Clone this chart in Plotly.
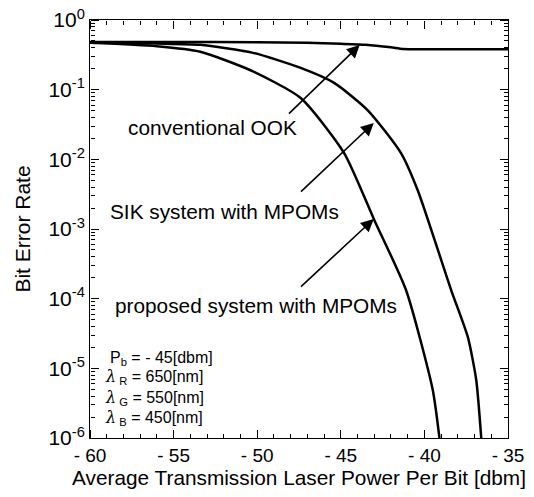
import plotly.graph_objects as go

# Data
power_ook = [-60, -55, -50, -47, -45, -43.5, -42, -41.3, -40, -35]
ber_ook = [0.485, 0.485, 0.48, 0.47, 0.455, 0.44, 0.405, 0.385, 0.38, 0.38]

power_sik = [-60, -56, -53.4, -50.3, -47.4, -45.4, -43.4, -41.4, -40.4, -38.4, -37.4, -36.9, -36.6]
ber_sik = [0.48, 0.46, 0.44, 0.34, 0.205, 0.125, 0.051, 0.0123, 3.6e-3, 1.33e-4, 2.8e-5, 6.8e-6, 1e-6]

power_prop = [-60, -56, -53.4, -50.4, -47.4, -44.8, -43.0, -41.1, -39.5, -39.1]
ber_prop = [0.47, 0.42, 0.35, 0.19, 0.076, 0.0123, 1.35e-3, 1.33e-4, 4.9e-6, 1e-6]

x_ticks = [-60, -55, -50, -45, -40, -35]
x_ticklabels = ["- 60", "- 55", "- 50", "- 45", "- 40", "- 35"]
x_minor = list(range(-60, -34))
y_ticks = [1e-6, 1e-5, 1e-4, 1e-3, 1e-2, 1e-1, 1e0]
y_ticklabels = ["10<sup>-6</sup>", "10<sup>-5</sup>", "10<sup>-4</sup>", "10<sup>-3</sup>",
                "10<sup>-2</sup>", "10<sup>-1</sup>", "10<sup>0</sup>"]
y_minor = [m * 10 ** e for e in range(-6, 0) for m in range(2, 10)]

FONT = "Liberation Sans, Arial, sans-serif"
X_RANGE = [-60, -35]
Y_RANGE = [-6, 0]

fig = go.Figure()
for xs, ys in [(power_ook, ber_ook), (power_sik, ber_sik), (power_prop, ber_prop)]:
    fig.add_trace(go.Scatter(x=xs, y=ys, mode="lines",
                             line=dict(color="black", width=2.5, shape="spline", smoothing=0.6),
                             showlegend=False))

fig.update_layout(
    width=518, height=481,
    margin=dict(l=82, r=18, t=12, b=51),
    paper_bgcolor="white", plot_bgcolor="white",
    font=dict(family=FONT, size=20, color="black"),
    xaxis=dict(range=X_RANGE, tickvals=x_ticks, ticktext=x_ticklabels, ticks="",
               showline=True, linecolor="black", linewidth=1, mirror=True,
               showgrid=False, zeroline=False, automargin=False,
               title=dict(text="Average Transmission Laser Power Per Bit [dbm]", font=dict(size=20.8), standoff=6),
               tickfont=dict(size=19)),
    yaxis=dict(type="log", range=Y_RANGE, tickvals=y_ticks, ticktext=y_ticklabels, ticks="",
               showline=True, linecolor="black", linewidth=1, mirror=True,
               showgrid=False, zeroline=False, automargin=False, ticklabeloverflow="allow",
               title=dict(text="Bit Error Rate", font=dict(size=21), standoff=12),
               tickfont=dict(size=21)),
)

# Tick-only overlay axes: outside ticks placed on the opposite edge so they point into the plot
tick_axes_x = [
    ("xaxis3", "x3", x_ticks, 8, "top", 0),
    ("xaxis4", "x4", x_ticks, 8, "bottom", 1),
    ("xaxis5", "x5", x_minor, 4, "top", 0),
    ("xaxis6", "x6", x_minor, 4, "bottom", 1),
]
for name, ref, vals, ln, side, pos in tick_axes_x:
    fig.update_layout({name: dict(overlaying="x", anchor="free", position=pos, side=side,
                                  range=X_RANGE, tickvals=vals, ticks="outside", ticklen=ln,
                                  tickwidth=1, tickcolor="black", showticklabels=False,
                                  showline=False, showgrid=False, zeroline=False, automargin=False)})
    fig.add_trace(go.Scatter(x=[power_ook[0]], y=[ber_ook[0]], xaxis=ref, yaxis="y",
                             mode="markers", marker=dict(opacity=0), showlegend=False, hoverinfo="skip"))

tick_axes_y = [
    ("yaxis3", "y3", y_ticks, 8, "right", 0),
    ("yaxis4", "y4", y_ticks, 8, "left", 1),
    ("yaxis5", "y5", y_minor, 4, "right", 0),
    ("yaxis6", "y6", y_minor, 4, "left", 1),
]
for name, ref, vals, ln, side, pos in tick_axes_y:
    fig.update_layout({name: dict(overlaying="y", anchor="free", position=pos, side=side, type="log",
                                  range=Y_RANGE, tickvals=vals, ticks="outside", ticklen=ln,
                                  tickwidth=1, tickcolor="black", showticklabels=False,
                                  showline=False, showgrid=False, zeroline=False, automargin=False)})
    fig.add_trace(go.Scatter(x=[power_ook[0]], y=[ber_ook[0]], xaxis="x", yaxis=ref,
                             mode="markers", marker=dict(opacity=0), showlegend=False, hoverinfo="skip"))

# Arrow annotations (data coords; log10 for y)
arrows = [
    (-43.87, -0.359, -48.19, -1.364),
    (-43.03, -1.478, -47.47, -2.483),
    (-43.03, -2.856, -47.47, -3.847),
]
for hx, hy, tx, ty in arrows:
    fig.add_annotation(x=hx, y=hy, ax=tx, ay=ty, xref="x", yref="y", axref="x", ayref="y",
                       text="", showarrow=True, arrowhead=2, arrowsize=1.6, arrowwidth=1.6,
                       arrowcolor="black")

labels = [
    ("conventional OOK", 0.086, 0.742),
    ("SIK system with MPOMs", 0.043, 0.541),
    ("proposed system with MPOMs", 0.055, 0.318),
]
for t, x, y in labels:
    fig.add_annotation(text=t, x=x, y=y, xref="paper", yref="paper", xanchor="left", yanchor="middle",
                       showarrow=False, font=dict(size=20.8, family=FONT))

params = [
    ("P<sub>b</sub> = - 45[dbm]", 0.043, 0.191),
    ("<span style='font-family:DejaVu Serif'><i>λ</i></span><sub> R</sub> = 650[nm]", 0.031, 0.146),
    ("<span style='font-family:DejaVu Serif'><i>λ</i></span><sub> G</sub> = 550[nm]", 0.031, 0.096),
    ("<span style='font-family:DejaVu Serif'><i>λ</i></span><sub> B</sub> = 450[nm]", 0.031, 0.048),
]
for t, x, y in params:
    fig.add_annotation(text=t, x=x, y=y, xref="paper", yref="paper", xanchor="left", yanchor="middle",
                       showarrow=False, font=dict(size=16, family=FONT))

fig.write_html("out.html")
